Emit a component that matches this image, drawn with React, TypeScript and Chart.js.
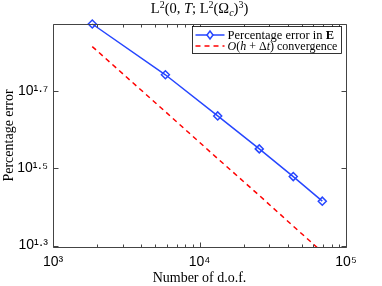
import React, { useEffect, useRef } from "react";
import { Chart, registerables } from "chart.js";

Chart.register(...registerables);

// ---- data ----
const dof = [1854, 5850, 13310, 25590, 43650, 68870];
const errorE = [74.7, 55.2, 43.2, 35.5, 30.1, 26.0];
const convergence = [65.3, 44.3, 33.5, 26.9, 22.4, 19.2];
const xTicks = [1e3, 1e4, 1e5];
const xTickLabels = ["10³", "10⁴", "10⁵"];
const yTickExps = [1.3, 1.5, 1.7];
const yTickLabels = ["10¹·³", "10¹·⁵", "10¹·⁷"];
const yLimExps = [1.2964, 1.8733];
const xLim = [1e3, 1e5];
const legendLabels = ["Percentage error in E", "O(h + Δt) convergence"];
const chartTitle = "L²(0, T; L²(Ωc)³)";
const xTitle = "Number of d.o.f.";
const yTitle = "Percentage error";

const BLUE = "#2646ff";
const RED = "#ff0000";
const AXIS = "#444444";
const SERIF = '"Liberation Serif", "DejaVu Serif", serif';
const SANS = '"Liberation Sans", Arial, sans-serif';

type Part = { t: string; font: string; dy?: number };

function richWidth(ctx: CanvasRenderingContext2D, parts: Part[]) {
  let total = 0;
  for (const p of parts) {
    ctx.font = p.font;
    total += ctx.measureText(p.t).width;
  }
  return total;
}

function drawRich(ctx: CanvasRenderingContext2D, parts: Part[], x: number, y: number, align: "left" | "center") {
  const total = richWidth(ctx, parts);
  let cx = align === "center" ? x - total / 2 : x;
  ctx.textAlign = "left";
  ctx.textBaseline = "alphabetic";
  for (const p of parts) {
    ctx.font = p.font;
    ctx.fillText(p.t, cx, y + (p.dy || 0));
    cx += ctx.measureText(p.t).width;
  }
}

const framePlugin = {
  id: "frame",
  afterDatasetsDraw(chart: any) {
    const { ctx, chartArea: a, scales } = chart;
    const xs = scales.x;
    const ys = scales.y;
    const L = Math.round(a.left) + 0.5;
    const R = Math.round(a.right) + 0.5;
    const T = Math.round(a.top) + 0.5;
    const B = Math.round(a.bottom) + 0.5;
    ctx.save();
    ctx.strokeStyle = AXIS;
    ctx.lineWidth = 1;
    ctx.beginPath();
    ctx.rect(L, T, R - L, B - T);
    for (let k = 3; k <= 5; k++) {
      for (let m = 1; m <= 9; m++) {
        const v = m * Math.pow(10, k);
        if (v > xLim[1]) break;
        const px = Math.round(xs.getPixelForValue(v)) + 0.5;
        const len = m === 1 ? 5 : 3;
        ctx.moveTo(px, B);
        ctx.lineTo(px, B - len);
        ctx.moveTo(px, T);
        ctx.lineTo(px, T + len);
      }
    }
    for (const e of yTickExps) {
      const py = Math.round(ys.getPixelForValue(Math.pow(10, e))) + 0.5;
      ctx.moveTo(L, py);
      ctx.lineTo(L + 5, py);
      ctx.moveTo(R, py);
      ctx.lineTo(R - 5, py);
    }
    ctx.stroke();
    ctx.restore();
  },
};

const titlePlugin = {
  id: "richTitle",
  afterDraw(chart: any) {
    const { ctx, chartArea: a } = chart;
    const base = `14.5px ${SERIF}`;
    const it = `italic 14.5px ${SERIF}`;
    const sup = `10px ${SERIF}`;
    const sub = `italic 10px ${SERIF}`;
    const parts: Part[] = [
      { t: "L", font: base },
      { t: "2", font: sup, dy: -5 },
      { t: "(0, ", font: base },
      { t: "T", font: it },
      { t: "; L", font: base },
      { t: "2", font: sup, dy: -5 },
      { t: "(Ω", font: base },
      { t: "c", font: sub, dy: 3 },
      { t: ")", font: base },
      { t: "3", font: sup, dy: -5 },
      { t: ")", font: base },
    ];
    ctx.save();
    ctx.fillStyle = "#000";
    drawRich(ctx, parts, (a.left + a.right) / 2, 13, "center");
    ctx.restore();
  },
};

function rowParts(row: number, fs: number): Part[] {
  const base = `${fs}px ${SERIF}`;
  const bold = `bold ${fs}px ${SERIF}`;
  const it = `italic ${fs}px ${SERIF}`;
  if (row === 0) {
    return [
      { t: "Percentage error in ", font: base },
      { t: "E", font: bold },
    ];
  }
  return [
    { t: "O", font: it },
    { t: "(", font: base },
    { t: "h", font: it },
    { t: " + Δ", font: base },
    { t: "t", font: it },
    { t: ") convergence", font: base },
  ];
}

const legendPlugin = {
  id: "richLegend",
  afterDraw(chart: any) {
    const { ctx, chartArea: a } = chart;
    const x0 = Math.round(a.right) - 154 + 0.5;
    const x1 = Math.round(a.right) - 5 + 0.5;
    const y0 = Math.round(a.top) + 2 + 0.5;
    const y1 = y0 + 27;
    ctx.save();
    ctx.fillStyle = "#fff";
    ctx.fillRect(x0, y0, x1 - x0, y1 - y0);
    ctx.strokeStyle = "#000";
    ctx.lineWidth = 0.8;
    ctx.strokeRect(x0, y0, x1 - x0, y1 - y0);

    const r1 = y0 + 8.5;
    const r2 = y0 + 19.5;
    const ls = x0 + 3;
    const le = x0 + 32;
    ctx.strokeStyle = BLUE;
    ctx.lineWidth = 1.5;
    ctx.beginPath();
    ctx.moveTo(ls, r1);
    ctx.lineTo(le, r1);
    ctx.stroke();
    const mx = (ls + le) / 2;
    ctx.beginPath();
    ctx.moveTo(mx, r1 - 4);
    ctx.lineTo(mx + 3, r1);
    ctx.lineTo(mx, r1 + 4);
    ctx.lineTo(mx - 3, r1);
    ctx.closePath();
    ctx.fillStyle = "#fff";
    ctx.fill();
    ctx.stroke();
    ctx.strokeStyle = RED;
    ctx.setLineDash([5, 4]);
    ctx.beginPath();
    ctx.moveTo(ls, r2);
    ctx.lineTo(le, r2);
    ctx.stroke();
    ctx.setLineDash([]);

    ctx.fillStyle = "#000";
    const tx = le + 3;
    const target = x1 - tx - 4;
    [r1, r2].forEach((ry, i) => {
      const w = richWidth(ctx, rowParts(i, 12));
      const fs = Math.min(12.5, (12 * target) / w);
      drawRich(ctx, rowParts(i, fs), tx, ry + 4, "left");
    });
    ctx.restore();
  },
};

export default function App() {
  const ref = useRef<HTMLCanvasElement>(null);
  useEffect(() => {
    document.body.style.margin = "0";
    if (!ref.current) return;
    const chart = new Chart(ref.current, {
      type: "line",
      data: {
        datasets: [
          {
            label: legendLabels[0],
            data: dof.map((x, i) => ({ x, y: errorE[i] })),
            borderColor: BLUE,
            borderWidth: 1.5,
            pointStyle: "rectRot",
            pointRadius: 4,
            pointBorderWidth: 1.5,
            pointBorderColor: BLUE,
            pointBackgroundColor: "rgba(255,255,255,0)",
            clip: false as any,
            tension: 0,
          },
          {
            label: legendLabels[1],
            data: dof.map((x, i) => ({ x, y: convergence[i] })),
            borderColor: RED,
            borderDash: [5, 4],
            borderWidth: 1.5,
            pointRadius: 0,
            tension: 0,
          },
        ],
      },
      options: {
        animation: false,
        responsive: false,
        events: [],
        layout: { padding: { top: 24, right: 36, left: 0, bottom: 0 } },
        plugins: {
          legend: { display: false },
          title: { display: false, text: chartTitle },
          tooltip: { enabled: false },
        },
        scales: {
          x: {
            type: "logarithmic",
            min: xLim[0],
            max: xLim[1],
            grid: { display: false, drawTicks: false },
            border: { display: false },
            afterBuildTicks: (s: any) => {
              s.ticks = xTicks.map((v) => ({ value: v }));
            },
            afterFit: (s: any) => {
              s.height = 39;
            },
            ticks: {
              autoSkip: false,
              maxRotation: 0,
              padding: 7,
              color: "#000",
              font: { family: SANS, size: 14 },
              callback: (_v: any, i: number) => xTickLabels[i],
            },
            title: {
              display: true,
              text: xTitle,
              color: "#000",
              font: { family: SERIF, size: 14 },
              padding: { top: 0, bottom: -1 },
            },
          },
          y: {
            type: "logarithmic",
            min: Math.pow(10, yLimExps[0]),
            max: Math.pow(10, yLimExps[1]),
            grid: { display: false, drawTicks: false },
            border: { display: false },
            afterBuildTicks: (s: any) => {
              s.ticks = yTickExps.map((e) => ({ value: Math.pow(10, e) }));
            },
            afterFit: (s: any) => {
              s.width = 53;
            },
            ticks: {
              autoSkip: false,
              padding: 5,
              color: "#000",
              font: { family: SANS, size: 14 },
              callback: (_v: any, i: number) => yTickLabels[i],
            },
            title: {
              display: true,
              text: yTitle,
              color: "#000",
              font: { family: SERIF, size: 14 },
              padding: { top: 1, bottom: 0 },
            },
          },
        },
      } as any,
      plugins: [framePlugin, titlePlugin, legendPlugin],
    });
    return () => chart.destroy();
  }, []);
  return (
    <canvas ref={ref} width={382} height={286} style={{ display: "block", width: 382, height: 286 }} />
  );
}
